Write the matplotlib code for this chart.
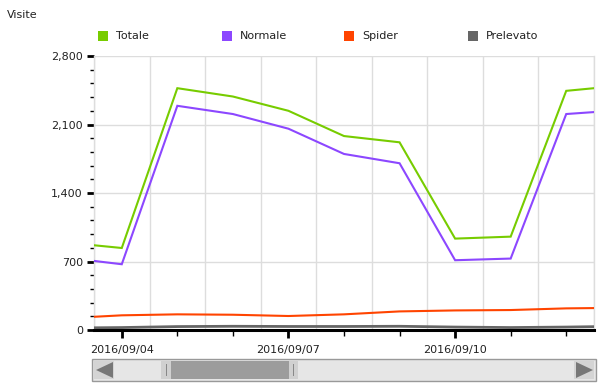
import matplotlib
matplotlib.use("Agg")
import matplotlib.pyplot as plt
import matplotlib.dates as mdates
from matplotlib.patches import Rectangle, Polygon
from matplotlib.ticker import MultipleLocator, FuncFormatter
import pandas as pd

# data (daily visits, 09/03 .. 09/13)
days = pd.date_range("2016-09-03", "2016-09-13", freq="D")
totale = [894, 838, 2471, 2386, 2240, 1982, 1918, 934, 954, 2444, 2498]
normale = [740, 672, 2291, 2207, 2057, 1799, 1704, 713, 730, 2207, 2247]
spider = [120, 150, 160, 156, 143, 160, 190, 200, 204, 221, 227]
prelevato = [20, 25, 35, 38, 36, 36, 38, 30, 25, 30, 38]

series_names = ["Totale", "Normale", "Spider", "Prelevato"]
series_colors = ["#77cc00", "#8c47ff", "#ff4400", "#666666"]

W, H = 606, 391
fig = plt.figure(figsize=(W / 100, H / 100), dpi=100)
ax = fig.add_axes([94 / W, 1 - 330 / H, 500 / W, 274 / H])

for vals, c in zip([totale, normale, spider, prelevato], series_colors):
    lw = 2.0 if c == "#666666" else 1.5
    ax.plot(days, vals, color=c, lw=lw, solid_joinstyle="miter", zorder=3)

ax.set_xlim(pd.Timestamp("2016-09-03 12:00"), pd.Timestamp("2016-09-12 12:00"))
ax.set_ylim(0, 2800)

# grid: vertical lines at noon, horizontal at major y ticks
for d in pd.date_range("2016-09-03 12:00", "2016-09-12 12:00", freq="D"):
    ax.axvline(d, color="#dddddd", lw=1, zorder=0)
ax.yaxis.set_major_locator(MultipleLocator(700))
ax.yaxis.set_minor_locator(MultipleLocator(140))
ax.yaxis.set_major_formatter(FuncFormatter(lambda v, p: f"{int(v):,}"))
ax.grid(axis="y", which="major", color="#dddddd", lw=1, zorder=0)

ax.xaxis.set_major_locator(mdates.DayLocator(bymonthday=[4, 7, 10]))
ax.xaxis.set_minor_locator(mdates.DayLocator())
ax.xaxis.set_major_formatter(mdates.DateFormatter("%Y/%m/%d"))

ax.tick_params(axis="y", which="major", length=5, width=2, color="black",
               labelsize=8, pad=3, labelcolor="#222222")
ax.tick_params(axis="y", which="minor", length=3, width=1, color="black")
ax.tick_params(axis="x", which="major", length=6, width=2, color="black",
               labelsize=8, pad=5, labelcolor="#222222")
ax.tick_params(axis="x", which="minor", length=4, width=1, color="black")

for s in ["left", "right", "top"]:
    ax.spines[s].set_color("#dddddd")
    ax.spines[s].set_linewidth(1)
ax.spines["top"].set_visible(False)
ax.spines["bottom"].set_color("black")
ax.spines["bottom"].set_linewidth(2.2)
ax.spines["bottom"].set_zorder(4)

# title-ish label
fig.text(7 / W, 1 - 15 / H, "Visite", fontsize=8, ha="left", va="center",
         color="#222222")

# legend
legend_x = [98, 222, 344, 468]
for x0, name, c in zip(legend_x, series_names, series_colors):
    fig.add_artist(Rectangle((x0 / W, 1 - 41 / H), 10 / W, 10 / H,
                             transform=fig.transFigure, color=c, lw=0))
    fig.text((x0 + 18) / W, 1 - 36 / H, name, fontsize=8, ha="left",
             va="center", color="#222222")

# scrollbar
def px_rect(x0, y0, x1, y1, **kw):
    fig.add_artist(Rectangle((x0 / W, 1 - y1 / H), (x1 - x0) / W, (y1 - y0) / H,
                             transform=fig.transFigure, **kw))

px_rect(92, 359, 596, 381, facecolor="#e6e6e6", edgecolor="#999999", lw=1)
px_rect(94, 361, 114, 379, facecolor="#d4d4d4", edgecolor="none")
px_rect(574, 361, 594, 379, facecolor="#d4d4d4", edgecolor="none")
px_rect(161, 361, 171, 379, facecolor="#d0d0d0", edgecolor="none")
px_rect(171, 361, 289, 379, facecolor="#9c9c9c", edgecolor="none")
px_rect(289, 361, 298, 379, facecolor="#d0d0d0", edgecolor="none")
px_rect(165.5, 364, 166.5, 376, facecolor="#888888", edgecolor="none")
px_rect(293, 364, 294, 376, facecolor="#888888", edgecolor="none")

def px_poly(pts, **kw):
    fig.add_artist(Polygon([(x / W, 1 - y / H) for x, y in pts],
                           transform=fig.transFigure, **kw))

px_poly([(96, 370), (113, 362), (113, 378)], facecolor="#777777", edgecolor="none")
px_poly([(593, 370), (576, 362), (576, 378)], facecolor="#777777", edgecolor="none")

fig.savefig("out.png", dpi=100)
